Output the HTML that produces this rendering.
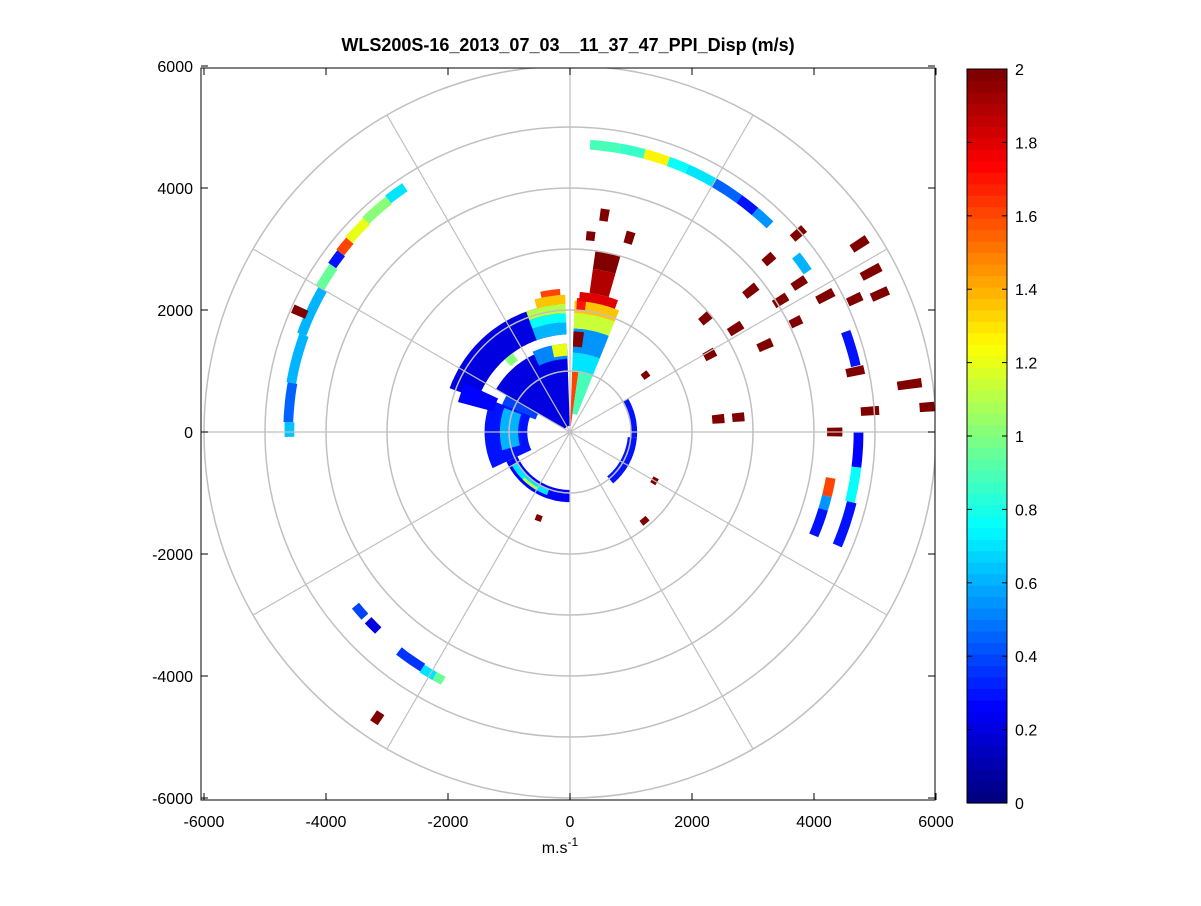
<!DOCTYPE html>
<html><head><meta charset="utf-8"><style>
body{margin:0;background:#fff;}
svg text{font-family:"Liberation Sans",Arial,sans-serif;}
</style></head><body>
<svg id="chart" width="1201" height="901" viewBox="0 0 1201 901">
<rect width="1201" height="901" fill="#fff"/>
<g id="data"></g><g id="grid"></g><g id="axes"></g><g id="cbar"></g>
</svg>
<script>
// segments: [az0, az1, r0, r1, value]; az clockwise from north (deg), r in m
const arcNE=[[4,10,4640,4800,0.9],[10,15,4640,4800,0.85],[15,20,4640,4800,1.25],[20,24,4640,4800,0.75],[24,30,4640,4800,0.7],[30,36,4640,4800,0.45],[36,40,4640,4800,0.3],[40,44,4640,4800,0.55]];
const arcW=[[269,272,4520,4680,0.65],[272,280,4540,4700,0.45],[280,290,4560,4720,0.6],[290,300,4600,4760,0.6],[300,305,4650,4810,0.95],[305,308,4680,4840,0.3],[308,311,4700,4860,1.6],[311,316,4720,4880,1.2],[316,322,4740,4900,1.0],[322,326,4760,4920,0.7]];
const arcE=[[52,56,4620,4780,0.6],[70,77,4730,4890,0.3],[90,97,4650,4810,0.25],[97,104,4650,4810,0.75],[104,113,4680,4840,0.3],[100,104,4260,4420,1.6],[104,107,4260,4420,0.55],[107,113,4260,4420,0.3]];
const arcSW=[[228,231,4450,4600,0.4],[224,227,4450,4600,0.2],[212,218,4480,4630,0.35],[209,212,4500,4650,0.7],[207,209,4500,4650,0.95]];
const inner=[[2,8,100,1000,1.6],[8,22,300,1000,0.9],[2,22,1000,1300,0.7],[2,22,1300,1700,0.55],[2,8,1400,1650,2.0],[2,22,1700,1950,1.15],[2,22,1950,2150,1.35],[3,7,2000,2200,1.7],[4,20,2150,2300,1.8],[8,16,2300,2700,1.9],[8,16,2700,3000,2.0],
[300,358,100,1400,0.2],[290,300,600,1200,0.4],[245,292,700,1400,0.3],[255,290,850,1150,0.6],[335,358,1200,1450,0.5],[348,358,1250,1450,1.2],[290,355,1600,2100,0.2],[285,295,1300,1900,0.25],[340,358,1600,1800,0.6],[340,358,1800,1950,0.75],[340,358,1950,2100,1.1],[345,358,2100,2250,1.35],[348,356,2250,2350,1.6],[318,324,1450,1600,1.0],
[180,245,950,1150,0.25],[200,240,1000,1100,0.7],[210,225,1050,1100,1.1],[95,140,950,1100,0.3],[60,95,1000,1100,0.3]];
// dark-red / isolated blocks: azimuth, range, radial length
const redAz=[9,17,6,49,49,52,58,57,62,57,62,66,65,64,58,50,66,61,78,82,86,86,90,85,85,53,294,214,120,140,200];
const redR=[3600,3330,3230,4960,4320,3760,4070,4480,4740,5660,5590,5560,5150,4120,3200,2900,3500,2620,4780,5620,5920,4930,4340,2770,2440,1550,4850,5650,1600,1900,1500];
const redLen=[200,200,150,250,200,250,250,250,300,300,350,300,250,200,250,200,250,200,300,400,350,300,250,200,200,120,250,200,100,100,100];
const cbTicks=[0,0.2,0.4,0.6,0.8,1,1.2,1.4,1.6,1.8,2];
const axTicks=[-6000,-4000,-2000,0,2000,4000,6000];

const NS='http://www.w3.org/2000/svg';
const cx=570, cy=432, sc=0.061;
const L=201,R=935,T=68,B=800;
function X(v){return cx+v*sc;}
function Y(v){return cy-v*sc;}
function jet(v){let t=Math.max(0,Math.min(1,v/2));t=Math.min(63,Math.floor(t*64))/63;
 const c=x=>Math.round(255*Math.max(0,Math.min(1,1.5-Math.abs(x))));
 return `rgb(${c(4*t-3)},${c(4*t-2)},${c(4*t-1)})`;}
function pt(az,r){const a=az*Math.PI/180;return [X(r*Math.sin(a)),Y(r*Math.cos(a))];}
function sector(az0,az1,r0,r1){
 const n=Math.max(2,Math.ceil((az1-az0)/1.5));let p=[];
 for(let i=0;i<=n;i++)p.push(pt(az0+(az1-az0)*i/n,r1));
 for(let i=n;i>=0;i--)p.push(pt(az0+(az1-az0)*i/n,r0));
 return 'M'+p.map(q=>q[0].toFixed(1)+','+q[1].toFixed(1)).join('L')+'Z';}
function mk(tag,attrs,parent){const e=document.createElementNS(NS,tag);for(const k in attrs)e.setAttribute(k,attrs[k]);parent.appendChild(e);return e;}
const gD=document.getElementById('data');
const cp=mk('clipPath',{id:'cp'},document.getElementById('chart'));
mk('rect',{x:L,y:T,width:R-L,height:B-T},cp);
gD.setAttribute('clip-path','url(#cp)');
[arcNE,arcW,arcE,arcSW,inner].forEach(set=>set.forEach(s=>{
 const e=mk('path',{d:sector(s[0],s[1],s[2],s[3]),fill:jet(s[4])},gD);
 
 
}));
redAz.forEach((az,i)=>{
 const w=Math.max(1.5,Math.min(4,160/redR[i]*57.3*0.9));
 const e=mk('path',{d:sector(az-w/2,az+w/2,redR[i]-redLen[i]/2,redR[i]+redLen[i]/2),fill:jet(2)},gD);
 
 
});
// grid
const gG=document.getElementById('grid');gG.setAttribute('clip-path','url(#cp)');
for(let r=1000;r<=6000;r+=1000){const e=mk('circle',{cx:cx,cy:cy,r:r*sc,fill:'none',stroke:'#c0c0c0','stroke-width':1.5},gG);
 }
for(let a=0;a<360;a+=30){const p=pt(a,6000);const e=mk('line',{x1:cx,y1:cy,x2:p[0],y2:p[1],stroke:'#c0c0c0','stroke-width':1.2},gG);
 }
// axes
const gA=document.getElementById('axes');
const box=mk('rect',{x:L,y:T,width:R-L,height:B-T,fill:'none',stroke:'#000','stroke-width':1},gA);

axTicks.forEach(v=>{
 const x=X(v),y=Y(v);
 mk('line',{x1:x,y1:B,x2:x,y2:B-7,stroke:'#000'},gA);mk('line',{x1:x,y1:T,x2:x,y2:T+7,stroke:'#000'},gA);
 mk('line',{x1:L,y1:y,x2:L+7,y2:y,stroke:'#000'},gA);mk('line',{x1:R,y1:y,x2:R-7,y2:y,stroke:'#000'},gA);
 const tx=mk('text',{x:x,y:B+27,'text-anchor':'middle','font-size':16},gA);tx.textContent=v;
 
 const ty=mk('text',{x:L-8,y:y+6,'text-anchor':'end','font-size':16},gA);ty.textContent=v;
 
});
const ttl=mk('text',{x:568,y:51,'text-anchor':'middle','font-size':18,'font-weight':'bold'},gA);
ttl.textContent='WLS200S-16_2013_07_03__11_37_47_PPI_Disp (m/s)';

const xl=mk('text',{x:560,y:853,'text-anchor':'middle','font-size':16},gA);
xl.innerHTML='m.s<tspan dy="-7" font-size="12">-1</tspan>';

// colorbar
const gC=document.getElementById('cbar');
const cL=967,cR=1007,cT=69,cB=803;
for(let i=0;i<64;i++){const y0=cB-(i+1)*(cB-cT)/64;
 const e=mk('rect',{x:cL,y:y0,width:cR-cL,height:(cB-cT)/64+0.6,fill:jet((i+0.5)/64*2)},gC);
 }
const cb=mk('rect',{x:cL,y:cT,width:cR-cL,height:cB-cT,fill:'none',stroke:'#000'},gC);

cbTicks.forEach(v=>{const y=cB-v/2*(cB-cT);
 mk('line',{x1:cR,y1:y,x2:cR-5,y2:y,stroke:'#000'},gC);mk('line',{x1:cL,y1:y,x2:cL+5,y2:y,stroke:'#000'},gC);
 const t=mk('text',{x:cR+8,y:y+6,'font-size':16},gC);t.textContent=v;
 });
</script>
</body></html>
